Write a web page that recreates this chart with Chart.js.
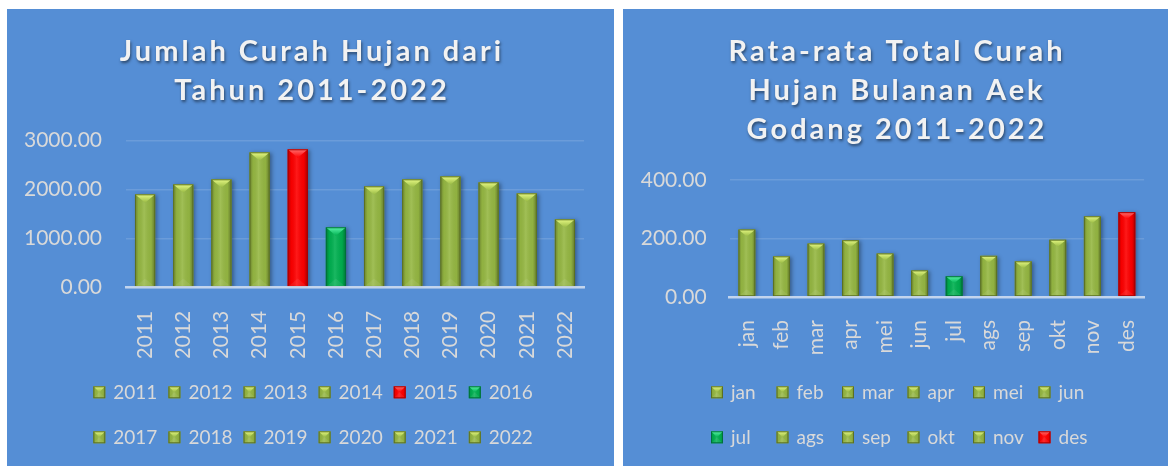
<!DOCTYPE html>
<html><head><meta charset="utf-8">
<script src="https://cdn.jsdelivr.net/npm/chart.js@4.4.0/dist/chart.umd.min.js"></script>
<style>
html,body{margin:0;padding:0;background:#fff;width:1173px;height:466px;overflow:hidden}
.panel{position:absolute;background:#558ed5}
#p1{left:7px;top:9px;width:607px;height:457px}
#p2{left:623px;top:9px;width:545px;height:457px}
canvas{display:block}
</style></head><body>
<div class="panel" id="p1"><canvas id="c1"></canvas></div>
<div class="panel" id="p2"><canvas id="c2"></canvas></div>
<script>
// ---- data ----
const yearLabels = ['2011','2012','2013','2014','2015','2016','2017','2018','2019','2020','2021','2022'];
const yearlyRainfall = [1906, 2110, 2212, 2763, 2824, 1233, 2069, 2212, 2273, 2151, 1926, 1396];
const yearTicks = [0, 1000, 2000, 3000];
const yearTitle = ['Jumlah Curah Hujan dari', 'Tahun 2011-2022'];

const monthLabels = ['jan','feb','mar','apr','mei','jun','jul','ags','sep','okt','nov','des'];
const monthlyRainfall = [231, 139, 183, 194, 149, 91, 71, 141, 122, 196, 276, 290];
const monthTicks = [0, 200, 400];
const monthTitle = ['Rata-rata Total Curah', 'Hujan Bulanan Aek', 'Godang 2011-2022'];

// ---- styles ----
const PAL = {
  olive: {base:'#96b843', dark:'#5b7022', light:'#e8fa84'},
  red:   {base:'#ff0000', dark:'#a80000', light:'#ff7070'},
  green: {base:'#00b050', dark:'#00703a', light:'#5cf5aa'}
};
function paletteFor(vals, i){
  const mx = Math.max(...vals), mn = Math.min(...vals);
  if (vals[i] === mx) return PAL.red;
  if (vals[i] === mn) return PAL.green;
  return PAL.olive;
}
const TICK_COLOR = '#d9d9d9';
const FONT = 'Lato';

function drawBevel(ctx, l, t, w, hgt, pal, tri, shade){
  const r = l + w, b = t + hgt, cx = l + w/2;
  ctx.save();
  ctx.beginPath(); ctx.rect(l, t, w, hgt); ctx.clip();
  const g = ctx.createLinearGradient(l,0,r,0);
  g.addColorStop(0,'rgba(0,0,0,' + (0.30*shade) + ')');
  g.addColorStop(0.18,'rgba(0,0,0,0.04)');
  g.addColorStop(0.45,'rgba(255,255,255,0.10)');
  g.addColorStop(0.8,'rgba(0,0,0,0.04)');
  g.addColorStop(1,'rgba(0,0,0,' + (0.34*shade) + ')');
  ctx.fillStyle = g; ctx.fillRect(l,t,w,hgt);
  const h = Math.min(tri, hgt);
  const tg = ctx.createLinearGradient(0,t,0,t+h);
  tg.addColorStop(0,pal.light); tg.addColorStop(1,pal.base);
  ctx.beginPath(); ctx.moveTo(l,t); ctx.lineTo(r,t); ctx.lineTo(cx,t+h); ctx.closePath();
  ctx.fillStyle = tg; ctx.fill();
  ctx.beginPath(); ctx.moveTo(l,b); ctx.lineTo(r,b); ctx.lineTo(cx,b-h); ctx.closePath();
  ctx.fillStyle = 'rgba(255,255,255,0.07)'; ctx.fill();
  ctx.restore();
  ctx.save(); ctx.strokeStyle = pal.dark; ctx.lineWidth = 1;
  ctx.strokeRect(l+0.5, t+0.5, w-1, hgt-1); ctx.restore();
}

const bevelPlugin = {
  id: 'bevel',
  beforeDatasetsDraw(chart){
    const ctx = chart.ctx; ctx.save();
    ctx.shadowColor = 'rgba(0,0,0,0.35)'; ctx.shadowBlur = 4; ctx.shadowOffsetX = 2; ctx.shadowOffsetY = 1;
  },
  afterDatasetsDraw(chart){
    const ctx = chart.ctx; ctx.restore();
    const vals = chart.data.datasets[0].data;
    chart.getDatasetMeta(0).data.forEach((el, i) => {
      const {x, y, base, width} = el.getProps(['x','y','base','width'], true);
      drawBevel(ctx, x - width/2, y, width, base - y, paletteFor(vals, i), width*0.42, 1);
    });
  }
};

const titlePatch = {
  id: 'titlePatch',
  beforeDraw(chart){
    const tb = chart.titleBlock;
    if (!tb || tb._patched) return;
    const orig = tb.draw.bind(tb);
    const shift = 1.5 + (chart.width - tb.right) / 2;
    tb.draw = function(){
      const ctx = this.ctx;
      ctx.save();
      ctx.letterSpacing = '3px';
      ctx.shadowColor = 'rgba(0,0,0,0.5)'; ctx.shadowBlur = 3; ctx.shadowOffsetX = 1; ctx.shadowOffsetY = 2;
      ctx.translate(shift, 0);
      orig();
      ctx.restore();
    };
    tb._patched = true;
  }
};

function gridLegend(cfg){
  return {
    id: 'gridLegend',
    afterDraw(chart){
      const ctx = chart.ctx;
      const labels = chart.data.labels, vals = chart.data.datasets[0].data;
      ctx.save();
      ctx.font = '19px ' + FONT;
      ctx.textBaseline = 'alphabetic';
      ctx.textAlign = 'left';
      labels.forEach((lab, i) => {
        const col = i % cfg.cols, row = Math.floor(i / cfg.cols);
        const bx = cfg.x0 + col * cfg.dx, cy = cfg.y0 + row * cfg.dy;
        const pal = paletteFor(vals, i);
        ctx.fillStyle = pal.base; ctx.fillRect(bx, cy - 6, 12, 12);
        drawBevel(ctx, bx, cy - 6, 12, 12, pal, 6, 0.6);
        ctx.fillStyle = TICK_COLOR;
        ctx.fillText(lab, bx + 20, cy + 7);
      });
      ctx.restore();
    }
  };
}

function makeChart(id, labels, values, ticks, title, L){
  const colors = values.map((v, i) => paletteFor(values, i).base);
  return new Chart(document.getElementById(id), {
    type: 'bar',
    data: { labels, datasets: [{ data: values, backgroundColor: colors, borderWidth: 0,
      categoryPercentage: 1, barPercentage: L.barPct }] },
    options: {
      responsive: true, maintainAspectRatio: false, animation: false,
      layout: { padding: { left: 0, right: L.padRight, top: 0, bottom: L.padBottom } },
      plugins: {
        legend: { display: false },
        tooltip: { enabled: false },
        title: { display: true, text: title, color: '#f2f2f2',
          font: { family: FONT, size: 29, weight: 'bold', lineHeight: 1.355 },
          padding: { top: 22.7, bottom: 30.4 } }
      },
      scales: {
        x: {
          grid: { display: false },
          border: { display: true, color: 'rgba(205,220,240,0.9)', width: 2.5, z: 1 },
          ticks: { color: TICK_COLOR, font: { family: FONT, size: 21 }, minRotation: 90, maxRotation: 90,
            autoSkip: false, padding: 15 },
          afterFit: s => { s.height = 70; }
        },
        y: {
          min: 0, max: ticks[ticks.length - 1],
          afterBuildTicks: s => { s.ticks = ticks.map(v => ({ value: v })); },
          grid: { color: 'rgba(255,255,255,0.13)', lineWidth: 1.5, drawTicks: false },
          border: { display: false },
          ticks: { color: TICK_COLOR, font: { family: FONT, size: 21 }, padding: L.yPad,
            callback: v => Number(v).toFixed(2) },
          afterFit: s => { s.width = L.yWidth; }
        }
      }
    },
    plugins: [bevelPlugin, titlePatch, gridLegend(L.legend)]
  });
}

function init(){
  makeChart('c1', yearLabels, yearlyRainfall, yearTicks, yearTitle, {
    barPct: 0.53, padRight: 30, padBottom: 108.3, yWidth: 119, yPad: 24,
    legend: { cols: 6, x0: 86.3, dx: 75.1, y0: 383.3, dy: 45 }
  });
  makeChart('c2', monthLabels, monthlyRainfall, monthTicks, monthTitle, {
    barPct: 0.49, padRight: 22.5, padBottom: 99, yWidth: 106.6, yPad: 23,
    legend: { cols: 6, x0: 88, dx: 65.5, y0: 383.3, dy: 45 }
  });
}
if (document.fonts && document.fonts.load) {
  Promise.all([document.fonts.load('bold 29px Lato'), document.fonts.load('21px Lato')])
    .then(init, init);
} else { init(); }
</script>
</body></html>
